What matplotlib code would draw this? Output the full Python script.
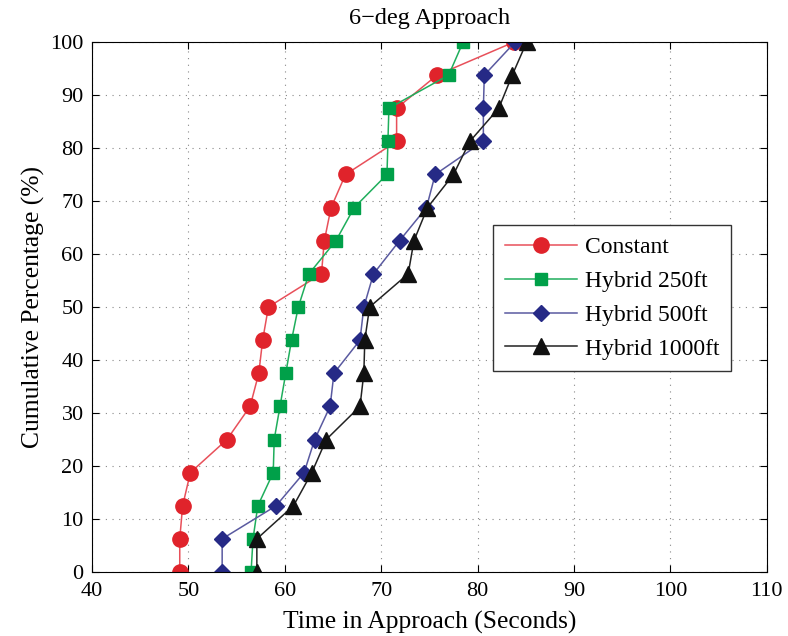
import matplotlib
matplotlib.use('Agg')
import matplotlib.pyplot as plt
import numpy as np

plt.rcParams['font.family'] = ['Liberation Serif', 'DejaVu Serif']

pct = [0, 6.25, 12.5, 18.75, 25, 31.25, 37.5, 43.75, 50,
       56.25, 62.5, 68.75, 75, 81.25, 87.5, 93.75, 100]

constant = [49.1, 49.1, 49.4, 50.2, 54.0, 56.4, 57.3, 57.7, 58.3,
            63.8, 64.1, 64.8, 66.3, 71.6, 71.6, 75.8, 83.8]
hybrid250 = [56.5, 56.7, 57.2, 58.8, 58.9, 59.5, 60.1, 60.7, 61.4,
             62.5, 65.3, 67.2, 70.6, 70.7, 70.8, 77.0, 78.5]
hybrid500 = [53.5, 53.5, 59.1, 62.0, 63.1, 64.7, 65.1, 67.8, 68.2,
             69.2, 71.9, 74.7, 75.6, 80.6, 80.6, 80.7, 83.9]
hybrid1000 = [57.1, 57.1, 60.9, 62.8, 64.3, 67.8, 68.2, 68.3, 68.8,
              72.8, 73.4, 74.8, 77.5, 79.2, 82.2, 83.6, 85.1]

fig = plt.figure(figsize=(7.88, 6.36), dpi=100)
ax = fig.add_axes([0.1168, 0.1006, 0.8562, 0.8334])

ax.plot(constant, pct, color='#e8505a', marker='o', markersize=11,
        markerfacecolor='#e0232b', markeredgecolor='#e0232b', linewidth=1.1, label='Constant')
ax.plot(hybrid250, pct, color='#1fae5c', marker='s', markersize=9,
        markerfacecolor='#00a049', markeredgecolor='#00a049', linewidth=1.1, label='Hybrid 250ft')
ax.plot(hybrid500, pct, color='#5a5aa0', marker='D', markersize=8.5,
        markerfacecolor='#262a86', markeredgecolor='#262a86', linewidth=1.1, label='Hybrid 500ft')
ax.plot(hybrid1000, pct, color='#222222', marker='^', markersize=11,
        markerfacecolor='#111111', markeredgecolor='#111111', linewidth=1.1, label='Hybrid 1000ft')

ax.set_xlim(40, 110)
ax.set_ylim(0, 100)
ax.set_xticks(np.arange(40, 111, 10))
ax.set_yticks(np.arange(0, 101, 10))
ax.tick_params(direction='in', top=True, right=True, labelsize=16, length=5)
ax.tick_params(axis='x', pad=7)
ax.tick_params(axis='y', pad=6)
ax.grid(True, linestyle=(0, (1, 5)), color='#888888', linewidth=0.8)

ax.set_xlabel('Time in Approach (Seconds)', fontsize=18.4, labelpad=7)
ax.set_ylabel('Cumulative Percentage (%)', fontsize=18.4, labelpad=4)
ax.set_title('6\u2212deg Approach', fontsize=17.5, pad=13)

leg = ax.legend(loc='upper left', bbox_to_anchor=(0.594, 0.655), fontsize=17,
                fancybox=False, edgecolor='#333333', framealpha=1,
                handlelength=3.05, borderpad=0.5, labelspacing=0.52,
                handletextpad=0.34, borderaxespad=0)
leg.get_frame().set_linewidth(1)

fig.savefig('out.png', dpi=100)
plt.close(fig)
